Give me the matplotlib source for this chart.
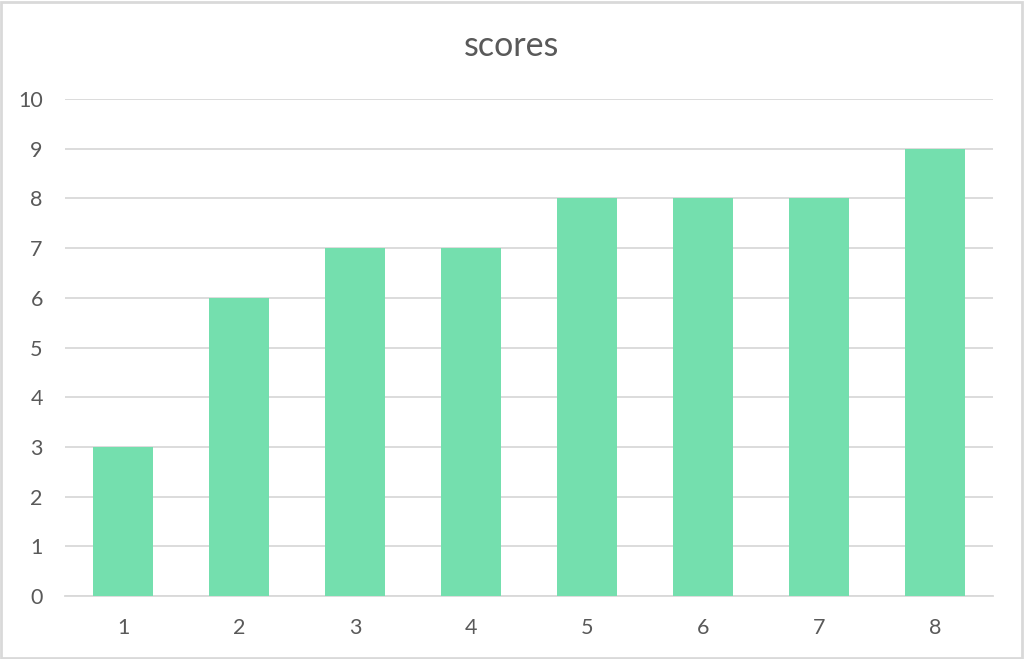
import matplotlib
matplotlib.use("Agg")
import matplotlib.pyplot as plt
from matplotlib.patches import Rectangle

categories = ["1", "2", "3", "4", "5", "6", "7", "8"]
scores = [3, 6, 7, 7, 8, 8, 8, 9]
y_ticks = [0, 1, 2, 3, 4, 5, 6, 7, 8, 9, 10]

plt.rcParams['font.family'] = ['Lato', 'DejaVu Sans']
text_color = '#595959'
grid_color = '#D9D9D9'

fig = plt.figure(figsize=(10.24, 6.59), dpi=100)
ax = fig.add_axes([65 / 1024, 63 / 659, 928 / 1024, 497 / 659])

x = list(range(len(categories)))
ax.bar(x, scores, width=0.52, color='#74DFAE', zorder=3)

ax.set_xlim(-0.5, len(categories) - 0.5)
ax.set_ylim(0, 10)
ax.set_xticks(x)
ax.set_xticklabels(categories)
ax.set_yticks(y_ticks)

ax.grid(axis='y', color=grid_color, linewidth=1.3, zorder=0)
for side in ['top', 'right', 'left']:
    ax.spines[side].set_visible(False)
ax.spines['bottom'].set_color(grid_color)
ax.spines['bottom'].set_linewidth(1.3)
ax.tick_params(axis='both', length=0, labelsize=15.5, labelcolor=text_color)
ax.tick_params(axis='y', pad=16)
ax.tick_params(axis='x', pad=16)

fig.text(0.5, 1 - 46 / 659, 'scores', ha='center', va='center',
         fontsize=24.5, color=text_color)

# light outer border like the chart area frame
fig.patches.append(Rectangle((0.001, 0.002), 0.997, 0.995, transform=fig.transFigure,
                             fill=False, edgecolor=grid_color, linewidth=2))

fig.savefig('out.png', dpi=100)
